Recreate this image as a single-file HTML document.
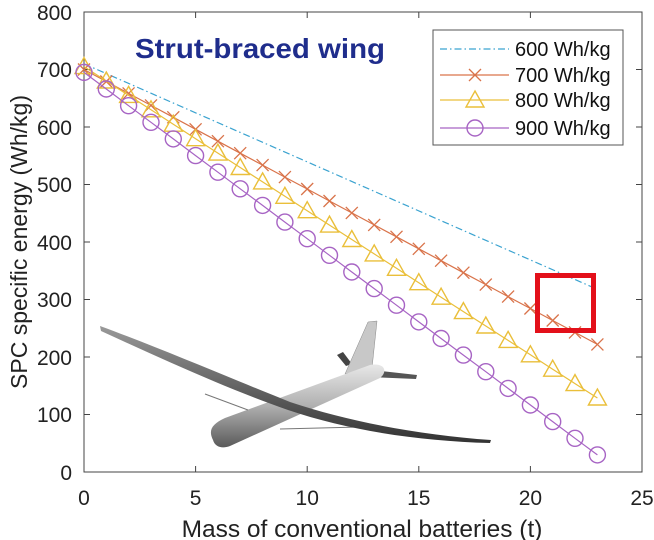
<!DOCTYPE html>
<html><head><meta charset="utf-8"><style>
html,body{margin:0;padding:0;background:#fff;}
svg{display:block;font-family:"Liberation Sans",sans-serif;}
</style></head><body>
<svg width="654" height="540" viewBox="0 0 654 540" xmlns="http://www.w3.org/2000/svg">
<defs>
<marker id="mx" markerUnits="userSpaceOnUse" markerWidth="16" markerHeight="16" refX="8" refY="8" overflow="visible"><path d="M2 2L14 14M14 2L2 14" stroke="#d9734a" stroke-width="1.3" fill="none"/></marker>
<marker id="mt" markerUnits="userSpaceOnUse" markerWidth="20" markerHeight="20" refX="10" refY="10" overflow="visible"><path d="M10 1L19 17L1 17Z" stroke="#eabf3a" stroke-width="1.4" fill="none"/></marker>
<marker id="mc" markerUnits="userSpaceOnUse" markerWidth="20" markerHeight="20" refX="10" refY="10" overflow="visible"><circle cx="10" cy="10" r="8" stroke="#a764c4" stroke-width="1.4" fill="none"/></marker>
<linearGradient id="fg" x1="0" y1="0" x2="0" y2="1"><stop offset="0" stop-color="#e8e8e8"/><stop offset="0.5" stop-color="#b0b0b0"/><stop offset="1" stop-color="#5a5a5a"/></linearGradient>
<linearGradient id="wg" x1="0" y1="0" x2="0" y2="1"><stop offset="0" stop-color="#999"/><stop offset="1" stop-color="#333"/></linearGradient>
</defs>
<rect x="84" y="12" width="558" height="460" fill="none" stroke="#444" stroke-width="1"/>
<g stroke="#444" stroke-width="1">
<path d="M195.6 472v-6M307.2 472v-6M418.8 472v-6M530.4 472v-6M195.6 12v6M307.2 12v6M418.8 12v6M530.4 12v6"/>
<path d="M84 414.5h6M84 357h6M84 299.5h6M84 242h6M84 184.5h6M84 127h6M84 69.5h6M642 414.5h-6M642 357h-6M642 299.5h-6M642 242h-6M642 184.5h-6M642 127h-6M642 69.5h-6"/>
</g>
<g font-size="21" fill="#222" text-anchor="end">
<text x="72" y="480">0</text><text x="72" y="422">100</text><text x="72" y="365">200</text><text x="72" y="307">300</text><text x="72" y="250">400</text><text x="72" y="192">500</text><text x="72" y="135">600</text><text x="72" y="77">700</text><text x="72" y="20">800</text>
</g>
<g font-size="21" fill="#222" text-anchor="middle">
<text x="84" y="505">0</text><text x="195.6" y="505">5</text><text x="307.2" y="505">10</text><text x="418.8" y="505">15</text><text x="530.4" y="505">20</text><text x="642" y="505">25</text>
</g>
<text x="362" y="537" font-size="24.5" fill="#222" text-anchor="middle">Mass of conventional batteries (t)</text>
<text transform="translate(27,242) rotate(-90)" font-size="23" fill="#222" text-anchor="middle">SPC specific energy (Wh/kg)</text>
<text x="135" y="58" font-size="28" font-weight="bold" fill="#1f2d8c" textLength="250" lengthAdjust="spacingAndGlyphs">Strut-braced wing</text>

<g>
<path d="M337 355L343 352L352 364L346 366Z" fill="#444"/>
<path d="M372 370L417 375L416 379L370 377Z" fill="#555"/>
<path d="M345 374L368 322L377 321L372 368Z" fill="#c8c8c8" stroke="#888" stroke-width="0.5"/>
<path d="M213 440C208 430 212 424 225 418L370 365C385 362 388 372 380 378L230 446C222 449 215 447 213 440Z" fill="url(#fg)"/>
<path d="M205 394L248 410M280 429L360 427" stroke="#777" stroke-width="1" fill="none"/>
<path d="M100 326C160 348 230 378 290 402C350 422 420 435 491 440L490 443C420 441 350 431 288 410C225 388 160 358 101 331Z" fill="url(#wg)"/>
</g>

<line x1="84" y1="63.8" x2="592" y2="287" stroke="#3ba3d0" stroke-width="1.2" stroke-dasharray="7,3,1.5,3"/>
<polyline fill="none" stroke="#d9734a" stroke-width="1.2" marker-start="url(#mx)" marker-mid="url(#mx)" marker-end="url(#mx)" points="84,69.5 106.3,81.5 128.6,93.4 151,105.4 173.3,117.3 195.6,129.3 217.9,141.2 240.2,153.2 262.6,165.1 284.9,177.1 307.2,189 329.5,201 351.8,212.9 374.2,224.9 396.5,236.8 418.8,248.8 441.1,260.7 463.4,272.7 485.8,284.6 508.1,296.6 530.4,308.5 552.7,320.5 575,332.4 597.4,344.4"/>
<polyline fill="none" stroke="#eabf3a" stroke-width="1.2" marker-start="url(#mt)" marker-mid="url(#mt)" marker-end="url(#mt)" points="84,66.6 106.3,81 128.6,95.4 151,109.8 173.3,124.2 195.6,138.7 217.9,153.1 240.2,167.5 262.6,181.9 284.9,196.3 307.2,210.7 329.5,225.1 351.8,239.5 374.2,253.9 396.5,268.3 418.8,282.7 441.1,297.2 463.4,311.6 485.8,326 508.1,340.4 530.4,354.8 552.7,369.2 575,383.6 597.4,398"/>
<polyline fill="none" stroke="#a764c4" stroke-width="1.2" marker-start="url(#mc)" marker-mid="url(#mc)" marker-end="url(#mc)" points="84,72.4 106.3,89 128.6,105.7 151,122.3 173.3,138.9 195.6,155.6 217.9,172.2 240.2,188.8 262.6,205.4 284.9,222.1 307.2,238.7 329.5,255.3 351.8,272 374.2,288.6 396.5,305.2 418.8,321.9 441.1,338.5 463.4,355.1 485.8,371.7 508.1,388.4 530.4,405 552.7,421.6 575,438.3 597.4,454.9"/>

<rect x="537.5" y="275.5" width="56" height="55" fill="none" stroke="#e3101a" stroke-width="5"/>

<rect x="433" y="30" width="190" height="115" fill="#fff" stroke="#555" stroke-width="1"/>
<line x1="440" y1="49" x2="509" y2="49" stroke="#3ba3d0" stroke-width="1.2" stroke-dasharray="7,3,1.5,3"/>
<polyline points="440,75 475,75 509,75" fill="none" stroke="#d9734a" stroke-width="1.2" marker-mid="url(#mx)"/>
<polyline points="440,100 475,100 509,100" fill="none" stroke="#eabf3a" stroke-width="1.2" marker-mid="url(#mt)"/>
<polyline points="440,128 475,128 509,128" fill="none" stroke="#a764c4" stroke-width="1.2" marker-mid="url(#mc)"/>
<g font-size="20" fill="#111">
<text x="515" y="56">600 Wh/kg</text>
<text x="515" y="82">700 Wh/kg</text>
<text x="515" y="107">800 Wh/kg</text>
<text x="515" y="135">900 Wh/kg</text>
</g>
</svg>
</body></html>
